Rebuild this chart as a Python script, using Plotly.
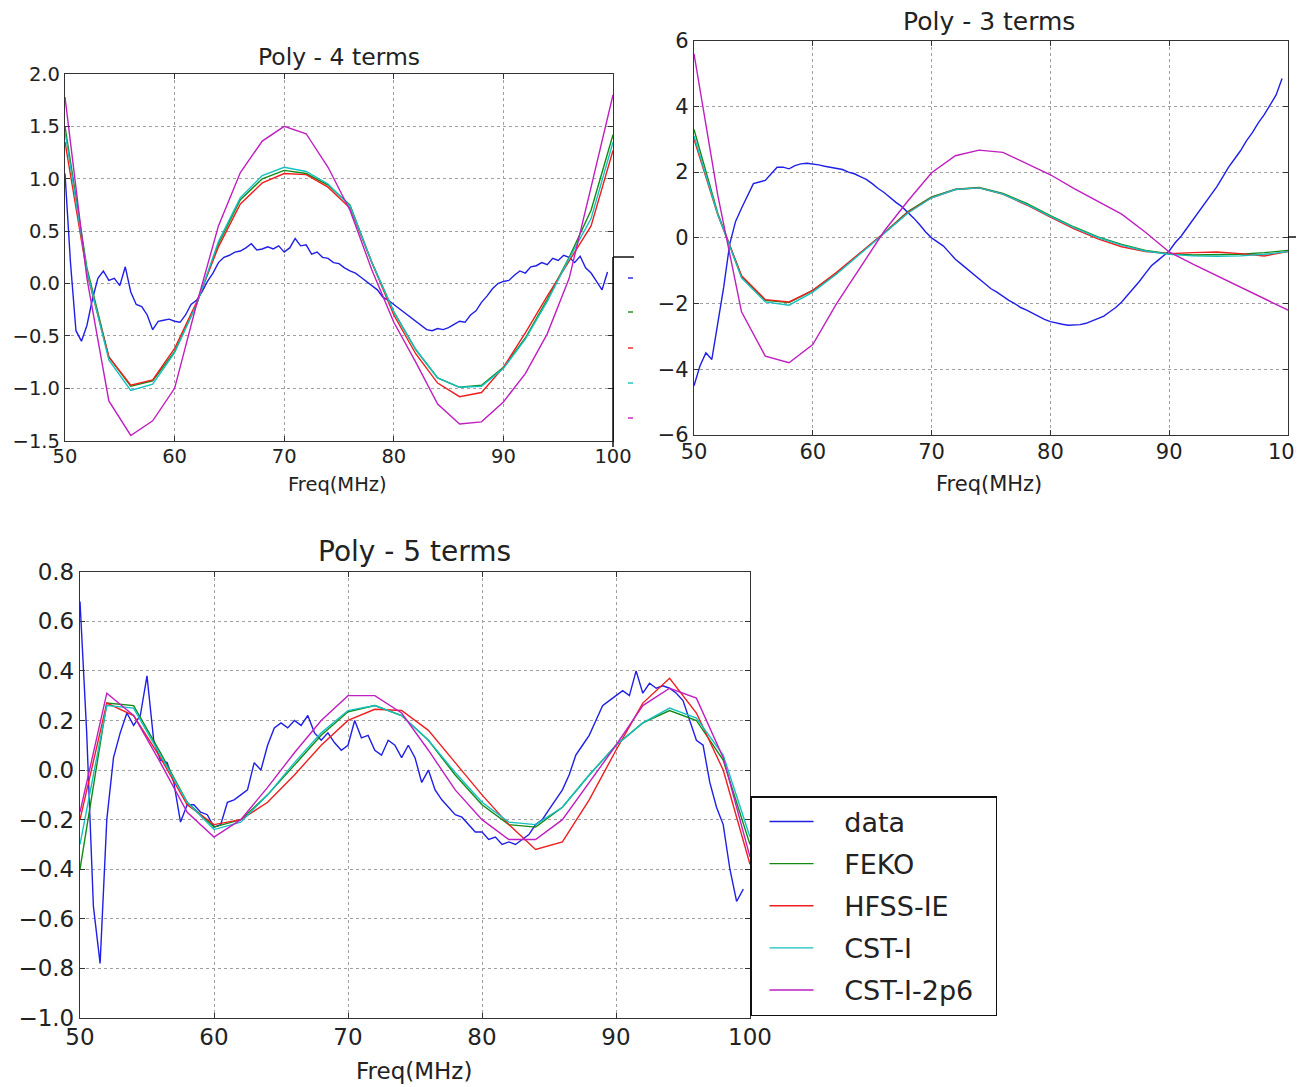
import plotly.graph_objects as go

W, H = 1310, 1087

# ---------------- data ----------------
freq_data = [50 + 0.5 * i for i in range(100)]   # 50 .. 99.5 MHz
freq_fit = [50 + 2 * i for i in range(26)]       # 50 .. 100 MHz

series_names = ["data", "FEKO", "HFSS-IE", "CST-I", "CST-I-2p6"]
series_colors = ["#1f1fe6", "#148a14", "#f01e1e", "#14c0c0", "#c01ec0"]

# Poly - 4 terms
p4_data = [1.05, 0.2, -0.45, -0.55, -0.4, -0.15, 0.05, 0.12, 0.03, 0.05,
           -0.02, 0.16, -0.08, -0.2, -0.22, -0.3, -0.44, -0.36, -0.35, -0.34,
           -0.36, -0.37, -0.3, -0.2, -0.16, -0.08, 0.02, 0.1, 0.2, 0.25,
           0.27, 0.3, 0.31, 0.34, 0.38, 0.32, 0.33, 0.35, 0.33, 0.36,
           0.3, 0.34, 0.43, 0.36, 0.37, 0.28, 0.3, 0.25, 0.24, 0.2,
           0.19, 0.15, 0.12, 0.1, 0.06, 0.02, -0.02, -0.06, -0.13, -0.16,
           -0.2, -0.24, -0.28, -0.32, -0.36, -0.4, -0.44, -0.45, -0.43, -0.44,
           -0.42, -0.39, -0.36, -0.37, -0.3, -0.26, -0.18, -0.12, -0.05, 0.0,
           0.02, 0.03, 0.08, 0.12, 0.1, 0.16, 0.17, 0.2, 0.18, 0.24,
           0.22, 0.27, 0.25, 0.2, 0.26, 0.15, 0.1, 0.02, -0.06, 0.11]
p4_feko = [1.5, 0.15, -0.7, -0.98, -0.93, -0.65, -0.2, 0.38, 0.8, 1.0, 1.08, 1.05, 0.94,
           0.75, 0.2, -0.27, -0.63, -0.9, -0.99, -0.97, -0.8, -0.52, -0.15, 0.25, 0.7, 1.42]
p4_hfss = [1.35, 0.1, -0.7, -0.97, -0.92, -0.62, -0.18, 0.35, 0.76, 0.96, 1.05, 1.04, 0.92,
           0.72, 0.2, -0.3, -0.67, -0.95, -1.08, -1.04, -0.8, -0.47, -0.12, 0.22, 0.55, 1.27]
p4_cst = [1.45, 0.12, -0.73, -1.02, -0.96, -0.66, -0.2, 0.4, 0.82, 1.03, 1.11, 1.07, 0.95,
          0.74, 0.2, -0.27, -0.63, -0.9, -0.99, -0.98, -0.81, -0.53, -0.17, 0.24, 0.62, 1.35]
p4_cst2p6 = [1.78, 0.05, -1.12, -1.45, -1.31, -1.0, -0.2, 0.55, 1.06, 1.36, 1.5, 1.43, 1.11,
             0.7, 0.13, -0.37, -0.75, -1.15, -1.34, -1.32, -1.13, -0.86, -0.48, 0.05, 0.92, 1.8]

# Poly - 3 terms
p3_data = [-4.5, -3.9, -3.5, -3.7, -2.6, -1.5, -0.2, 0.5, 0.9, 1.3,
           1.65, 1.7, 1.75, 1.95, 2.15, 2.15, 2.1, 2.2, 2.25, 2.27,
           2.25, 2.22, 2.18, 2.15, 2.12, 2.08, 2.0, 1.95, 1.86, 1.78,
           1.65, 1.5, 1.38, 1.22, 1.08, 0.95, 0.78, 0.6, 0.4, 0.18,
           0.0, -0.12, -0.25, -0.45, -0.65, -0.8, -0.95, -1.12, -1.25, -1.4,
           -1.55, -1.65, -1.78, -1.9, -2.0, -2.12, -2.2, -2.3, -2.4, -2.48,
           -2.55, -2.6, -2.63, -2.66, -2.65, -2.64, -2.6, -2.53, -2.45, -2.38,
           -2.25, -2.12, -1.95, -1.75, -1.55, -1.32, -1.08, -0.85, -0.7, -0.55,
           -0.4, -0.15, 0.05, 0.3, 0.55, 0.8, 1.05, 1.3, 1.55, 1.85,
           2.15, 2.4, 2.65, 2.95, 3.2, 3.5, 3.75, 4.05, 4.35, 4.85]
p3_feko = [3.3, 0.75, -1.18, -1.9, -1.97, -1.6, -1.08, -0.47, 0.15, 0.8, 1.25, 1.48, 1.53,
           1.35, 1.05, 0.68, 0.33, 0.03, -0.2, -0.38, -0.48, -0.52, -0.52, -0.5, -0.45, -0.38]
p3_hfss = [3.0, 0.7, -1.15, -1.88, -1.95, -1.6, -1.05, -0.45, 0.15, 0.78, 1.22, 1.47, 1.52,
           1.33, 1.0, 0.63, 0.27, -0.03, -0.27, -0.42, -0.48, -0.45, -0.43, -0.48, -0.55, -0.42]
p3_cst = [3.1, 0.72, -1.22, -1.95, -2.05, -1.65, -1.1, -0.48, 0.12, 0.75, 1.22, 1.47, 1.52,
          1.33, 1.02, 0.65, 0.31, 0.01, -0.22, -0.4, -0.5, -0.55, -0.56, -0.55, -0.5, -0.42]
p3_cst2p6 = [5.6, 1.3, -2.25, -3.6, -3.8, -3.25, -2.0, -0.9, 0.2, 1.12, 1.98, 2.5, 2.67,
             2.6, 2.25, 1.92, 1.5, 1.12, 0.72, 0.17, -0.43, -0.8, -1.15, -1.5, -1.85, -2.2]

# Poly - 5 terms
p5_data = [0.68, 0.15, -0.55, -0.78, -0.2, 0.05, 0.15, 0.23, 0.18, 0.22,
           0.38, 0.12, 0.04, 0.03, -0.05, -0.21, -0.14, -0.14, -0.17, -0.18,
           -0.23, -0.22, -0.13, -0.12, -0.1, -0.08, 0.03, 0.0, 0.1, 0.17,
           0.19, 0.17, 0.2, 0.18, 0.22, 0.15, 0.12, 0.15, 0.11, 0.08,
           0.1, 0.2, 0.13, 0.14, 0.08, 0.06, 0.12, 0.1, 0.05, 0.1,
           0.05, -0.05, 0.0, -0.08, -0.12, -0.15, -0.18, -0.19, -0.22, -0.25,
           -0.25, -0.28, -0.27, -0.3, -0.29, -0.3, -0.28, -0.26, -0.22, -0.2,
           -0.16, -0.12, -0.08, -0.02, 0.06, 0.1, 0.14, 0.2, 0.26, 0.28,
           0.3, 0.32, 0.3, 0.4, 0.31, 0.35, 0.33, 0.34, 0.33, 0.31,
           0.28, 0.2, 0.12, 0.1, -0.05, -0.15, -0.22, -0.4, -0.53, -0.48]
p5_feko = [-0.4, 0.27, 0.26, 0.07, -0.13, -0.23, -0.2, -0.1, 0.02, 0.14, 0.235, 0.26, 0.22,
           0.12, -0.02, -0.14, -0.22, -0.23, -0.15, -0.02, 0.1, 0.19, 0.24, 0.2, 0.04, -0.3]
p5_hfss = [-0.2, 0.27, 0.22, 0.05, -0.14, -0.22, -0.2, -0.13, -0.02, 0.1, 0.2, 0.245, 0.24,
           0.16, 0.03, -0.1, -0.22, -0.32, -0.29, -0.12, 0.08, 0.27, 0.37, 0.23, 0.0, -0.38]
p5_cst = [-0.3, 0.26, 0.25, 0.06, -0.13, -0.24, -0.21, -0.1, 0.03, 0.15, 0.24, 0.26, 0.22,
          0.12, -0.01, -0.13, -0.21, -0.22, -0.15, -0.02, 0.1, 0.19, 0.25, 0.21, 0.06, -0.27]
p5_cst2p6 = [-0.17, 0.31, 0.22, 0.03, -0.17, -0.27, -0.2, -0.07, 0.07, 0.2, 0.3, 0.3, 0.23,
             0.08, -0.08, -0.2, -0.28, -0.28, -0.2, -0.05, 0.1, 0.26, 0.33, 0.29, 0.05, -0.35]

titles = ["Poly - 4 terms", "Poly - 3 terms", "Poly - 5 terms"]
xlabel = "Freq(MHz)"

# ---------------- layout helpers ----------------
def px_x(p):
    return p / W

def px_y(p):
    return 1 - p / H

FONT = "DejaVu Sans"
TXT = "#222222"
NBSP = "\u00a0"

fig = go.Figure()

panels = [
    dict(ax="", data=p4_data, fits=[p4_feko, p4_hfss, p4_cst, p4_cst2p6]),
    dict(ax="2", data=p3_data, fits=[p3_feko, p3_hfss, p3_cst, p3_cst2p6]),
    dict(ax="3", data=p5_data, fits=[p5_feko, p5_hfss, p5_cst, p5_cst2p6]),
]

def legend_label(s):
    return NBSP * 3 + s + NBSP * 2

for k, pnl in enumerate(panels):
    xa = "x" + pnl["ax"]
    ya = "y" + pnl["ax"]
    show = (k == 2)
    fig.add_trace(go.Scatter(x=freq_data, y=pnl["data"], mode="lines",
                             name=legend_label(series_names[0]),
                             line=dict(color=series_colors[0], width=1.4),
                             xaxis=xa, yaxis=ya, showlegend=show, legendgroup="g0"))
    for j, fit in enumerate(pnl["fits"]):
        fig.add_trace(go.Scatter(x=freq_fit, y=fit, mode="lines",
                                 name=legend_label(series_names[j + 1]),
                                 line=dict(color=series_colors[j + 1], width=1.4),
                                 xaxis=xa, yaxis=ya, showlegend=show,
                                 legendgroup="g%d" % (j + 1)))

def axis_style(domain, rng, dtick, fs, fmt, anchor, is_x):
    d = dict(domain=domain, range=rng, dtick=dtick, tick0=rng[0], anchor=anchor,
             showline=True, linecolor="#333333", linewidth=1.3, mirror="ticks",
             ticks="inside", ticklen=5, tickcolor="#333333", tickwidth=1,
             showgrid=True, gridcolor="#a0a0a0", gridwidth=1, griddash="3px,3px",
             zeroline=False, tickformat=fmt, automargin=False,
             tickfont=dict(family=FONT, size=fs, color=TXT))
    if is_x:
        d["ticklabelstandoff"] = -2
    return d

dom_x1 = [px_x(65), px_x(613)]
dom_y1 = [px_y(440.7), px_y(74)]
dom_x2 = [px_x(694), px_x(1288)]
dom_y2 = [px_y(435), px_y(40.7)]
dom_x3 = [px_x(80), px_x(750)]
dom_y3 = [px_y(1018), px_y(571.7)]

fig.update_layout(
    width=W, height=H, autosize=False,
    margin=dict(l=0, r=0, t=0, b=0, pad=0, autoexpand=False),
    paper_bgcolor="white", plot_bgcolor="white",
    font=dict(family=FONT, color=TXT),
    xaxis=axis_style(dom_x1, [50, 100], 10, 19.5, "d", "y", True),
    yaxis=axis_style(dom_y1, [-1.5, 2.0], 0.5, 19.5, ".1f", "x", False),
    xaxis2=axis_style(dom_x2, [50, 100], 10, 21, "d", "y2", True),
    yaxis2=axis_style(dom_y2, [-6, 6], 2, 21, "d", "x2", False),
    xaxis3=axis_style(dom_x3, [50, 100], 10, 23, "d", "y3", True),
    yaxis3=axis_style(dom_y3, [-1.0, 0.8], 0.2, 23, ".1f", "x3", False),
    legend=dict(x=px_x(750), xanchor="left", y=px_y(796), yanchor="top",
                bgcolor="white", bordercolor="#111111", borderwidth=1.5,
                font=dict(family=FONT, size=27, color=TXT),
                tracegroupgap=4, itemwidth=44, indentation=13),
)

# titles and axis labels
ann = [
    (titles[0], 339, 57, 23.5),
    (titles[1], 989, 22, 25),
    (titles[2], 415, 551, 28),
    (xlabel, 338, 485, 19.5),
    (xlabel, 989, 484, 21),
    (xlabel, 414, 1071, 23),
]
for text, cx, cy, fs in ann:
    fig.add_annotation(text=text, x=px_x(cx), y=px_y(cy), xref="paper", yref="paper",
                       xanchor="center", yanchor="middle", showarrow=False,
                       font=dict(family=FONT, size=fs, color=TXT))

# clipped legend fragments of the two upper panels
shapes = []
shapes.append(dict(type="line", xref="paper", yref="paper", x0=px_x(613), x1=px_x(613),
                   y0=px_y(257), y1=px_y(447), line=dict(color="#111111", width=1.5)))
shapes.append(dict(type="line", xref="paper", yref="paper", x0=px_x(613), x1=px_x(634),
                   y0=px_y(257), y1=px_y(257), line=dict(color="#111111", width=1.5)))
for c, yy in zip(series_colors, [278, 312, 348, 383, 418]):
    shapes.append(dict(type="line", xref="paper", yref="paper", x0=px_x(628), x1=px_x(633),
                       y0=px_y(yy), y1=px_y(yy), line=dict(color=c, width=1.4)))
shapes.append(dict(type="line", xref="paper", yref="paper", x0=px_x(1288), x1=px_x(1296),
                   y0=px_y(237), y1=px_y(237), line=dict(color="#111111", width=1.5)))
# crop edge of the upper-right panel
shapes.append(dict(type="rect", xref="paper", yref="paper", x0=px_x(1296), x1=1.0,
                   y0=px_y(520), y1=1.0, fillcolor="white", line=dict(width=0), layer="above"))
fig.update_layout(shapes=shapes)

fig.write_html("out.html")
